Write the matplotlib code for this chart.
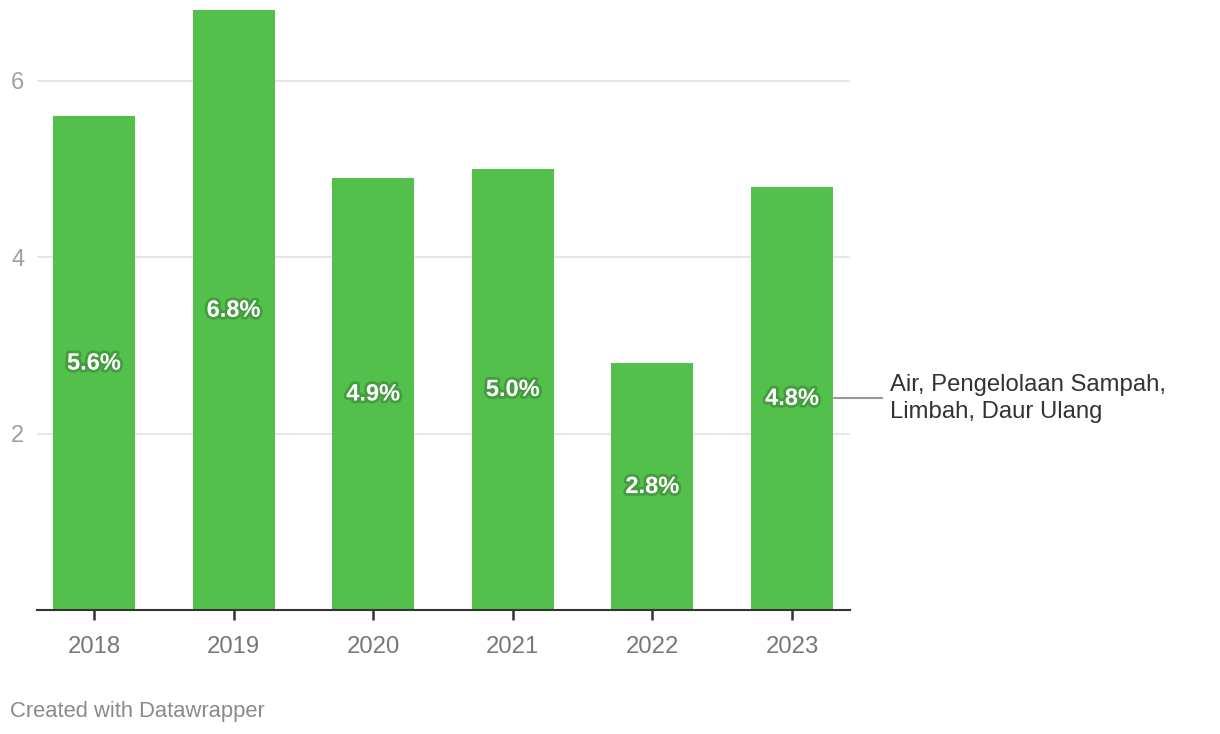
import matplotlib
matplotlib.use("Agg")
import matplotlib.pyplot as plt
import matplotlib.patheffects as pe

years = ["2018", "2019", "2020", "2021", "2022", "2023"]
values = [5.6, 6.8, 4.9, 5.0, 2.8, 4.8]
series_label = "Air, Pengelolaan Sampah,\nLimbah, Daur Ulang"
yticks = [2, 4, 6]

plt.rcParams['font.family'] = ['Liberation Sans', 'DejaVu Sans']

W, H = 1220, 734
fig = plt.figure(figsize=(W / 100, H / 100), dpi=100)
ax = fig.add_axes([37 / W, 124 / H, (850 - 37) / W, 610 / H])

x = list(range(len(years)))
bw = 0.587
ax.bar(x, values, width=bw, color="#52c04b", zorder=2)

ax.set_xlim(-0.408, len(years) - 1 + 0.415)
ax.set_ylim(0, 6.918)

ax.set_yticks(yticks)
ax.set_yticklabels([str(t) for t in yticks], color="#a0a0a0", fontsize=17)
ax.tick_params(axis='y', length=0, pad=9)
ax.yaxis.grid(True, color="#e2e2e2", linewidth=1.2, zorder=0)
ax.set_axisbelow(True)

ax.set_xticks(x)
ax.set_xticklabels(years, color="#777777", fontsize=17.2)
ax.tick_params(axis='x', length=7, width=1.8, color="#333333", pad=12)

for s in ["top", "right", "left"]:
    ax.spines[s].set_visible(False)
ax.spines["bottom"].set_color("#333333")
ax.spines["bottom"].set_linewidth(1.5)
ax.spines["bottom"].set_zorder(3)

for xi, v in zip(x, values):
    ax.text(xi, v / 2, f"{v:.1f}%", ha="center", va="center", color="white",
            fontsize=17, fontweight="bold", zorder=4,
            path_effects=[pe.withStroke(linewidth=4, foreground="#2a5a2a", alpha=0.35)])

# series label on the right of the last bar
last = len(years) - 1
ymid = values[last] / 2
ax.plot([last + bw / 2, last + (882 - 792) / 139.6], [ymid, ymid], color="#999999",
        linewidth=1.5, clip_on=False, zorder=3)
ax.text(last + (890 - 792) / 139.6, ymid - 0.005, series_label, ha="left", va="center",
        color="#333333", fontsize=17.2, linespacing=1.28, clip_on=False)

fig.text(10 / W, 1 - 711 / H, "Created with Datawrapper", ha="left", va="center",
         color="#8a8a8a", fontsize=15.8)

fig.savefig("out.png", dpi=100)
